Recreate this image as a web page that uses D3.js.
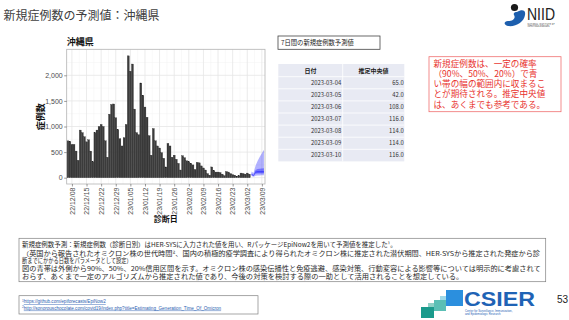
<!DOCTYPE html>
<html><head><meta charset="utf-8">
<script src="https://cdn.jsdelivr.net/npm/d3@7"></script>
<style>
body{margin:0;background:#fff;}
svg{display:block;font-family:"Noto Sans CJK JP","Noto Sans",sans-serif;}
</style></head>
<body><svg id="c" width="569" height="320"></svg>
<script>
// ---- data ----
const startDate = "2022-12-06";
const cases = [720,710,650,650,520,340,
  930,880,800,700,740,520,310,
  880,930,1000,1040,1000,720,400,
  1240,1430,1440,1170,940,760,620,
  780,1040,2380,2080,2220,1340,880,840,
  1850,1610,1380,1180,820,440,
  960,720,620,580,490,380,210,
  670,620,400,440,360,280,150,
  430,390,330,310,280,250,160,
  300,290,230,190,150,80,50,
  210,140,110,110,100,70,40,
  120,110,80,60,50,30,40,
  90,80,70,90,70];
const fcDates = ["2023-03-04","2023-03-05","2023-03-06","2023-03-07","2023-03-08","2023-03-09","2023-03-10"];
const fcMedian = [65,42,108,116,114,114,116];
const fcLo90 = [35,18,40,45,45,48,50];
const fcHi90 = [120,90,240,330,410,480,545];
const fcLo50 = [52,30,78,82,80,80,80];
const fcHi50 = [85,60,150,170,175,180,185];
const fcLo20 = [60,37,96,102,100,100,100];
const fcHi20 = [72,48,122,130,130,130,133];
const yTicks = [0,500,1000,1500,2000];
const xTickLabels = ["22/12/08","22/12/15","22/12/22","22/12/29","23/01/05","23/01/12","23/01/19","23/01/26","23/02/02","23/02/09","23/02/16","23/02/23","23/03/02","23/03/09"];
const tableHeader = ["日付","推定中央値"];
const tableValues = ["65.0","42.0","108.0","116.0","114.0","114.0","116.0"];

const parse = d3.utcParse("%Y-%m-%d");
const parseTick = d3.utcParse("%y/%m/%d");
const d0 = parse(startDate);
const bars = cases.map((v,i)=>({date:d3.utcDay.offset(d0,i), v}));
const fc = fcDates.map((d,i)=>({date:parse(d), m:fcMedian[i], lo90:fcLo90[i], hi90:fcHi90[i], lo50:fcLo50[i], hi50:fcHi50[i], lo20:fcLo20[i], hi20:fcHi20[i]}));

const svg = d3.select("#c");
svg.append("rect").attr("width",569).attr("height",320).attr("fill","#fff");

// slide title
svg.append("text").attr("x",3.5).attr("y",20).attr("font-size",12).attr("fill","#404040").text("新規症例数の予測値：沖縄県");

// NIID logo
const logo = svg.append("g");
logo.append("path").attr("d","M517,12 C522,9 526,10 525,15 C524,22 516,27 508,26 C503,25 504,21 508,21 C513,21 516,18 514,15 C513,13 515,12 517,12 Z").attr("fill","#1d5fae");
logo.append("circle").attr("cx",514.5).attr("cy",7.5).attr("r",3.6).attr("fill","#1a1a1a");
logo.append("text").attr("x",527).attr("y",20.3).attr("font-size",17).attr("font-family","Liberation Sans Narrow, Liberation Sans, sans-serif").attr("fill","#222").attr("textLength",28).attr("lengthAdjust","spacingAndGlyphs").text("NIID");
logo.append("text").attr("x",527.5).attr("y",24.6).attr("font-size",2).attr("fill","#333").attr("textLength",27).text("NATIONAL INSTITUTE OF");
logo.append("text").attr("x",527.5).attr("y",27.4).attr("font-size",2).attr("fill","#333").attr("textLength",22).text("INFECTIOUS DISEASES");

// ---- chart ----
const pL=66.7, pR=265, pT=49.3, pB=184;
const x = d3.scaleUtc().domain([new Date(Date.UTC(2022,11,5,12)), new Date(Date.UTC(2023,2,10,12))]).range([pL,pR]);
const y = d3.scaleLinear().domain([-123,2508]).range([pB,pT]);
const dayW = x(d3.utcDay.offset(d0,1)) - x(d0);

svg.append("text").attr("x",66.7).attr("y",45).attr("font-size",9).attr("font-weight","bold").attr("fill","#111").text("沖縄県");

svg.append("clipPath").attr("id","pc").append("rect").attr("x",pL).attr("y",pT).attr("width",pR-pL).attr("height",pB-pT);
const panel = svg.append("g");
panel.append("rect").attr("x",pL).attr("y",pT).attr("width",pR-pL).attr("height",pB-pT).attr("fill","#fff");
// grid
const xTicks = xTickLabels.map(s=>parseTick(s));
const xMinor = [];
for(let i=-1;i<xTicks.length;i++){ const b = i<0? d3.utcDay.offset(xTicks[0],-7):xTicks[i]; xMinor.push(new Date(b.getTime()+3.5*864e5)); }
const gGrid = panel.append("g").attr("clip-path","url(#pc)");
[-250,250,750,1250,1750,2250].forEach(v=>gGrid.append("line").attr("x1",pL).attr("x2",pR).attr("y1",y(v)).attr("y2",y(v)).attr("stroke","#f2f2f2").attr("stroke-width",0.5));
xMinor.forEach(d=>gGrid.append("line").attr("x1",x(d)).attr("x2",x(d)).attr("y1",pT).attr("y2",pB).attr("stroke","#f2f2f2").attr("stroke-width",0.5));
yTicks.forEach(v=>gGrid.append("line").attr("x1",pL).attr("x2",pR).attr("y1",y(v)).attr("y2",y(v)).attr("stroke","#e6e6e6").attr("stroke-width",0.8));
xTicks.forEach(d=>gGrid.append("line").attr("x1",x(d)).attr("x2",x(d)).attr("y1",pT).attr("y2",pB).attr("stroke","#e6e6e6").attr("stroke-width",0.8));

// bars
const gBars = panel.append("g").attr("clip-path","url(#pc)");
gBars.selectAll("rect").data(bars).join("rect")
  .attr("x",d=>x(d.date)-dayW*0.45).attr("width",dayW*0.9)
  .attr("y",d=>y(d.v)).attr("height",d=>y(0)-y(d.v))
  .attr("fill","#3b3b3b").attr("stroke","#1e1e1e").attr("stroke-width",0.3);

// forecast ribbons
const gF = panel.append("g").attr("clip-path","url(#pc)");
const band = (lo,hi)=>d3.area().x(d=>x(d.date)).y0(d=>y(d[lo])).y1(d=>y(d[hi]));
gF.append("path").datum(fc).attr("d",band("lo90","hi90")).attr("fill","#0000ff").attr("fill-opacity",0.3);
gF.append("path").datum(fc).attr("d",band("lo50","hi50")).attr("fill","#0000ff").attr("fill-opacity",0.35);
gF.append("path").datum(fc).attr("d",band("lo20","hi20")).attr("fill","#0000ff").attr("fill-opacity",0.4);

// border
panel.append("rect").attr("x",pL).attr("y",pT).attr("width",pR-pL).attr("height",pB-pT).attr("fill","none").attr("stroke","#b3b3b3").attr("stroke-width",0.8);

// axes
const yAxis = svg.append("g").attr("transform",`translate(${pL},0)`)
  .call(d3.axisLeft(y).tickValues(yTicks).tickFormat(d3.format(",")).tickSize(2.5).tickPadding(1.5));
yAxis.select(".domain").remove();
yAxis.selectAll("line").attr("stroke","#555").attr("stroke-width",0.6);
yAxis.selectAll("text").attr("font-size",7).attr("fill","#4d4d4d").attr("font-family","Liberation Sans, Arial, sans-serif");

const xAxis = svg.append("g").attr("transform",`translate(0,${pB})`)
  .call(d3.axisBottom(x).tickValues(xTicks).tickFormat((d,i)=>xTickLabels[i]).tickSize(2.5).tickPadding(1.5));
xAxis.select(".domain").remove();
xAxis.selectAll("line").attr("stroke","#555").attr("stroke-width",0.6);
xAxis.selectAll("text").attr("font-size",7).attr("fill","#4d4d4d").attr("font-family","Liberation Sans, Arial, sans-serif")
  .attr("transform","rotate(-90)").attr("text-anchor","end").attr("y",0).attr("x",-3.5).attr("dy","0.33em");

svg.append("text").attr("transform",`translate(44,${(pT+pB)/2}) rotate(-90)`).attr("text-anchor","middle").attr("font-size",9).attr("font-weight","bold").attr("fill","#111").text("症例数");
svg.append("text").attr("x",(pL+pR)/2).attr("y",221.5).attr("text-anchor","middle").attr("font-size",8).attr("font-weight","bold").attr("fill","#111").text("診断日");

// ---- table ----
svg.append("rect").attr("x",278).attr("y",36).attr("width",102).attr("height",13.3).attr("fill","#fff").attr("stroke","#444").attr("stroke-width",0.8);
svg.append("text").attr("x",281).attr("y",45.3).attr("font-size",6.3).attr("fill","#222").text("7日間の新規症例数予測値");

const tL=278.3, tM=342.7, tR=404.3, tTop=64, hH=12.7, rH=12.1;
const gT = svg.append("g");
gT.append("rect").attr("x",tL).attr("y",tTop).attr("width",tR-tL).attr("height",hH+rH*fcDates.length).attr("fill","#e8eaf3");
fcDates.forEach((d,i)=>{
  gT.append("line").attr("x1",tL).attr("x2",tR).attr("y1",tTop+hH+rH*i).attr("y2",tTop+hH+rH*i).attr("stroke","#fff").attr("stroke-width",0.8);
});
gT.append("line").attr("x1",tM).attr("x2",tM).attr("y1",tTop).attr("y2",tTop+hH+rH*fcDates.length).attr("stroke","#fff").attr("stroke-width",0.8);
gT.append("text").attr("x",(tL+tM)/2).attr("y",tTop+8.7).attr("text-anchor","middle").attr("font-size",6).attr("font-weight","bold").attr("fill","#222").text(tableHeader[0]);
gT.append("text").attr("x",(tM+tR)/2).attr("y",tTop+8.7).attr("text-anchor","middle").attr("font-size",6).attr("font-weight","bold").attr("fill","#222").text(tableHeader[1]);
fcDates.forEach((d,i)=>{
  const cy = tTop+hH+rH*i+rH/2+2.1;
  gT.append("text").attr("x",tM-1.5).attr("y",cy).attr("text-anchor","end").attr("font-size",5.9).attr("fill","#333").text(d);
  gT.append("text").attr("x",tR-0.5).attr("y",cy).attr("text-anchor","end").attr("font-size",5.9).attr("fill","#333").text(tableValues[i]);
});

// ---- red note ----
svg.append("rect").attr("x",429).attr("y",56.7).attr("width",132).attr("height",55).attr("fill","#fff").attr("stroke","#f07070").attr("stroke-width",0.8);
const note = ["新規症例数は、一定の確率","（90%、50%、20%）で青","い帯の幅の範囲内に収まるこ","とが期待される。推定中央値","は、あくまでも参考である。"];
note.forEach((t,i)=>svg.append("text").attr("x",433.5).attr("y",66.5+i*10.3).attr("font-size",8.6).attr("fill","#e8322d").text(t));

// ---- bottom text box ----
svg.append("rect").attr("x",19).attr("y",238.3).attr("width",526.7).attr("height",43.4).attr("fill","#fff").attr("stroke","#808080").attr("stroke-width",0.7);
const lines = [
 ["新規症例数予測：新規症例数（診断日別）はHER-SYSに入力された値を用い、RパッケージEpiNow2を用いて予測値を推定した¹。",374.7],
 ["（英国から報告されたオミクロン株の世代時間²、国内の積極的疫学調査により得られたオミクロン株に推定された潜伏期間、HER-SYSから推定された発症から診",518],
 ["断までにかかる日数をパラメータとして設定）",109.7],
 ["図の青帯は外側から90%、50%、20%信用区間を示す。オミクロン株の感染伝播性と免疫逃避、感染対策、行動変容による影響等については明示的に考慮されて",518.7],
 ["おらず、あくまで一定のアルゴリズムから推定された値であり、今後の対策を検討する際の一助として活用されることを想定している。",441.3]];
const lineY=[247.2,255.7,263.2,270.8,278.5];
lines.forEach((l,i)=>svg.append("text").attr("x",22).attr("y",lineY[i]).attr("font-size",6.3).attr("fill","#262626").attr("textLength",l[1]).attr("lengthAdjust","spacingAndGlyphs").text(l[0]));

// footnotes
svg.append("rect").attr("x",19).attr("y",295.7).attr("width",239).attr("height",18.3).attr("fill","#fff").attr("stroke","#808080").attr("stroke-width",0.7);
const fn1 = svg.append("text").attr("x",22).attr("y",303).attr("font-size",4.6).attr("fill","#2a5db0").attr("font-family","Liberation Sans, sans-serif");
fn1.append("tspan").attr("font-size",3.2).attr("dy",-1.2).text("1");
fn1.append("tspan").attr("dy",1.2).attr("text-decoration","underline").text("https://github.com/epiforecasts/EpiNow2");
const fn2 = svg.append("text").attr("x",22).attr("y",309.6).attr("font-size",4.6).attr("fill","#2a5db0").attr("font-family","Liberation Sans, sans-serif");
fn2.append("tspan").attr("font-size",3.2).attr("dy",-1.2).text("2");
fn2.append("tspan").attr("dy",1.2).attr("text-decoration","underline").text("http://sonorouschocolate.com/covid19/index.php?title=Estimating_Generation_Time_Of_Omicron");

// CSIER logo
const cs = svg.append("g");
cs.append("rect").attr("x",446).attr("y",290).attr("width",17).attr("height",16).attr("fill","#2b8fde");
cs.append("rect").attr("x",434).attr("y",300).attr("width",12).attr("height",11).attr("fill","#5bbfb5");
cs.append("rect").attr("x",440).attr("y",296).attr("width",6).attr("height",4).attr("fill","#9fd9e8");
cs.append("rect").attr("x",421).attr("y",307).attr("width",13).attr("height",11).attr("fill","#1a9a8c");
cs.append("rect").attr("x",428).attr("y",303).attr("width",6).attr("height",4).attr("fill","#8fd0c6");
cs.append("text").attr("x",464).attr("y",306).attr("font-size",20).attr("font-weight","bold").attr("font-family","Liberation Sans, Arial, sans-serif").attr("fill","#1f63b5").attr("textLength",71).attr("lengthAdjust","spacingAndGlyphs").text("CSIER");
cs.append("text").attr("x",465).attr("y",312).attr("font-size",2.8).attr("fill","#1f63b5").attr("font-family","Liberation Sans, sans-serif").text("Center for Surveillance, Immunization,");
cs.append("text").attr("x",465).attr("y",315.3).attr("font-size",2.8).attr("fill","#1f63b5").attr("font-family","Liberation Sans, sans-serif").text("and Epidemiologic Research");

svg.append("text").attr("x",557).attr("y",302.5).attr("font-size",10).attr("fill","#222").attr("font-family","Liberation Sans, Arial, sans-serif").text("53");
</script>
</body></html>
